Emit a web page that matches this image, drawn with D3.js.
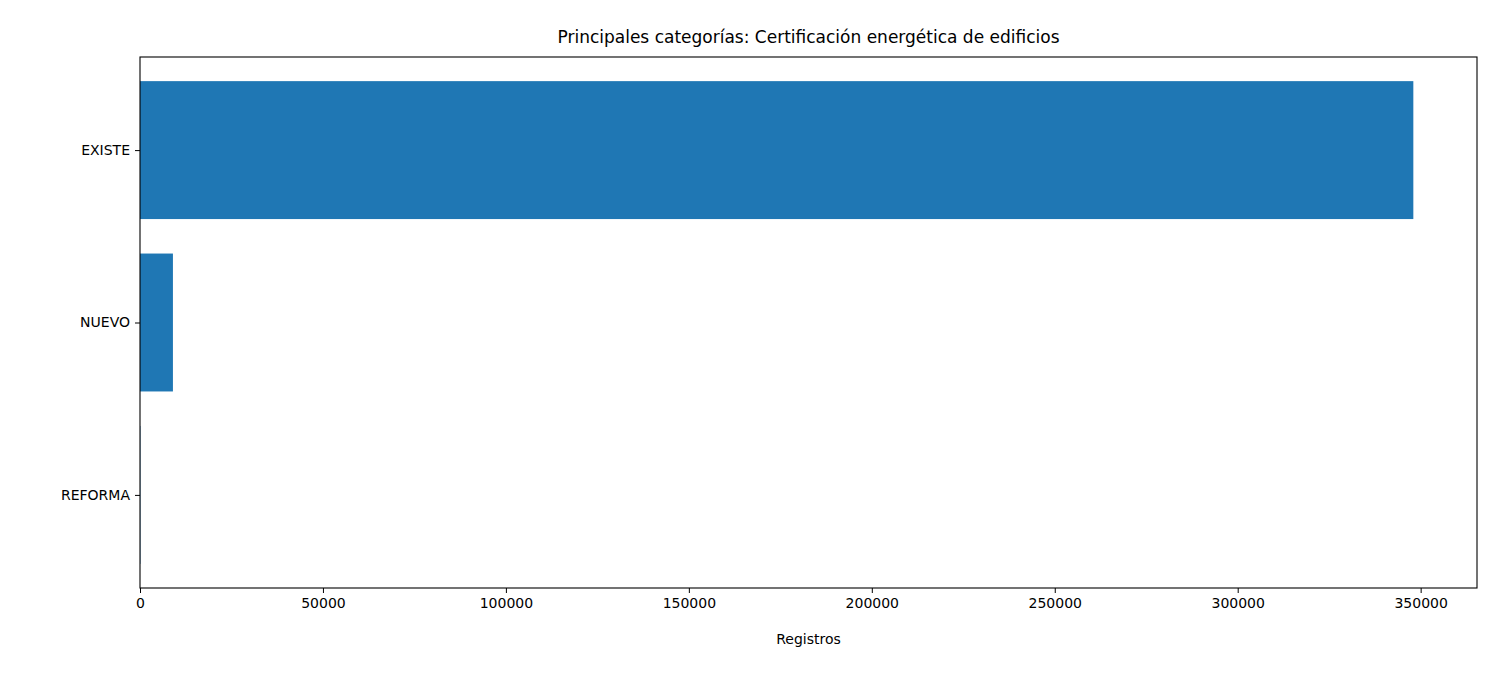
<!DOCTYPE html>
<html><head><meta charset="utf-8">
<script src="https://cdn.jsdelivr.net/npm/d3@7"></script>
<style>body{margin:0;background:#fff}text{font-family:"DejaVu Sans",sans-serif}</style>
</head><body>
<svg id="c" width="1500" height="675"></svg>
<script>
const categories = ["EXISTE", "NUEVO", "REFORMA"];
const values = [348000, 9000, 100];
const xTicks = [0, 50000, 100000, 150000, 200000, 250000, 300000, 350000];
const title = "Principales categorías: Certificación energética de edificios";
const xLabel = "Registros";

const L = 140, R = 1477, T = 57, B = 588;
const svg = d3.select("#c");
const x = d3.scaleLinear().domain([0, d3.max(values) * 1.05]).range([L, R]);
// matplotlib barh: category i at y=i, inverted; limits -0.4-0.09 .. 2.4+0.09
const pad = 0.05 * 2.8;
const y = d3.scaleLinear().domain([-0.4 - pad, 2.4 + pad]).range([T, B]);
const h = y(0.4) - y(0);

svg.selectAll("rect.bar").data(values).enter().append("rect")
  .attr("x", x(0)).attr("y", (d, i) => y(i) - h)
  .attr("width", d => x(d) - x(0)).attr("height", 2 * h)
  .attr("fill", "#1f77b4");

svg.append("rect").attr("x", L).attr("y", T).attr("width", R - L).attr("height", B - T)
  .attr("fill", "none").attr("stroke", "#000").attr("stroke-width", 1.1);

const xa = svg.append("g").attr("transform", `translate(0,${B})`)
  .call(d3.axisBottom(x).tickValues(xTicks).tickFormat(d3.format("d")).tickSize(5).tickPadding(5));
xa.select(".domain").remove();
xa.selectAll("text").attr("font-size", 14).attr("font-family", "DejaVu Sans").attr("fill", "#000");

const ya = svg.append("g").attr("transform", `translate(${L},0)`)
  .call(d3.axisLeft(y).tickValues([0, 1, 2]).tickFormat(i => categories[i]).tickSize(5).tickPadding(5));
ya.select(".domain").remove();
ya.selectAll("text").attr("font-size", 14).attr("font-family", "DejaVu Sans").attr("fill", "#000");

svg.append("text").attr("x", (L + R) / 2).attr("y", 644).attr("text-anchor", "middle")
  .attr("font-size", 14).text(xLabel);
svg.append("text").attr("x", (L + R) / 2).attr("y", 43).attr("text-anchor", "middle")
  .attr("font-size", 17).text(title);
</script>
</body></html>
